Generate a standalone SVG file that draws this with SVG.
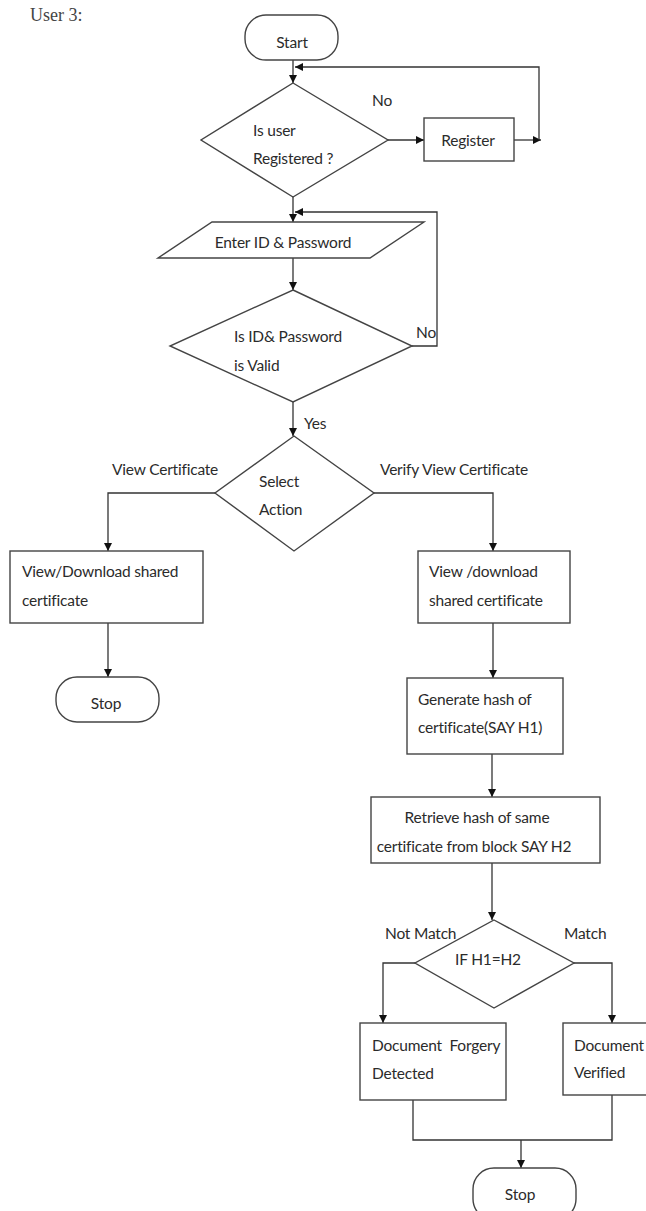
<svg xmlns="http://www.w3.org/2000/svg" width="646" height="1211" viewBox="0 0 646 1211">
<defs>
<style>
.s{fill:#fff;stroke:#444;stroke-width:1.4}
.c{fill:none;stroke:#333;stroke-width:1.3}
.t{font-family:Lato,"Liberation Sans",sans-serif;font-size:15.5px;letter-spacing:-0.2px;fill:#2b2b2b}
.m{text-anchor:middle}
</style>
<marker id="a" markerUnits="userSpaceOnUse" markerWidth="9" markerHeight="9" refX="8" refY="4" orient="auto">
<path d="M0,0 L8,4 L0,8 z" fill="#111"/>
</marker>
</defs>
<rect width="646" height="1211" fill="#fff"/>
<text x="30" y="21" style="font-family:'Liberation Serif',serif;font-size:18px;fill:#444">User 3:</text>

<g id="connectors" class="c">
<line x1="293" y1="60" x2="293" y2="83" marker-end="url(#a)"/>
<line x1="388" y1="140" x2="424" y2="140" marker-end="url(#a)"/>
<line x1="514" y1="140" x2="541" y2="140" marker-end="url(#a)"/>
<polyline points="539,140 539,67 295,67" marker-end="url(#a)"/>
<line x1="293" y1="197" x2="293" y2="222" marker-end="url(#a)"/>
<polyline points="412,346 437,346 437,212 295,212" marker-end="url(#a)"/>
<line x1="293" y1="258" x2="293" y2="290" marker-end="url(#a)"/>
<line x1="293" y1="402" x2="293" y2="436" marker-end="url(#a)"/>
<polyline points="215,493 108,493 108,551" marker-end="url(#a)"/>
<polyline points="374,493 493,493 493,551" marker-end="url(#a)"/>
<line x1="108" y1="623" x2="108" y2="677" marker-end="url(#a)"/>
<line x1="493" y1="623" x2="493" y2="678" marker-end="url(#a)"/>
<line x1="492" y1="754" x2="492" y2="797" marker-end="url(#a)"/>
<line x1="492" y1="863" x2="492" y2="920" marker-end="url(#a)"/>
<polyline points="415,963 383,963 383,1023" marker-end="url(#a)"/>
<polyline points="574,963 612,963 612,1023" marker-end="url(#a)"/>
<polyline points="413,1100 413,1140 612,1140 612,1095"/>
<line x1="521" y1="1140" x2="521" y2="1168" marker-end="url(#a)"/>
</g>

<g id="start"><rect class="s" x="245" y="15" width="93" height="45" rx="21"/><text class="t m" x="292" y="48">Start</text></g>
<g id="isRegistered"><polygon class="s" points="293,83 388,140 293,197 201,140"/><text class="t" x="253" y="136">Is user</text><text class="t" x="253" y="164">Registered ?</text></g>
<g id="noLabel1"><text class="t" x="372" y="106">No</text></g>
<g id="register"><rect class="s" x="424" y="118" width="90" height="43"/><text class="t m" x="468" y="146">Register</text></g>
<g id="enterId"><polygon class="s" points="212,222 424,222 370,258 158,258"/><text class="t m" x="283" y="248">Enter ID &amp; Password</text></g>
<g id="isValid"><polygon class="s" points="293,290 412,346 293,402 170,346"/><text class="t" x="234" y="342">Is ID&amp; Password</text><text class="t" x="234" y="371">is Valid</text></g>
<g id="noLabel2"><text class="t" x="416" y="338">No</text></g>
<g id="yesLabel"><text class="t" x="304" y="429">Yes</text></g>
<g id="selectAction"><polygon class="s" points="294,436 374,493 294,551 215,493"/><text class="t" x="259" y="487">Select</text><text class="t" x="259" y="515">Action</text></g>
<g id="viewCertLabel"><text class="t" x="112" y="475">View Certificate</text></g>
<g id="verifyLabel"><text class="t" x="380" y="475">Verify View Certificate</text></g>
<g id="viewDownloadLeft"><rect class="s" x="10" y="551" width="193" height="72"/><text class="t" x="22" y="577">View/Download shared</text><text class="t" x="22" y="606">certificate</text></g>
<g id="stop1"><rect class="s" x="56" y="677" width="103" height="45" rx="21"/><text class="t m" x="106" y="709">Stop</text></g>
<g id="viewDownloadRight"><rect class="s" x="418" y="551" width="152" height="72"/><text class="t" x="429" y="577">View /download</text><text class="t" x="429" y="606">shared certificate</text></g>
<g id="generateHash"><rect class="s" x="407" y="678" width="156" height="76"/><text class="t" x="418" y="705">Generate hash of</text><text class="t" x="418" y="733">certificate(SAY H1)</text></g>
<g id="retrieveHash"><rect class="s" x="371" y="797" width="229" height="66"/><text class="t m" x="477" y="823">Retrieve hash of same</text><text class="t m" x="474" y="852">certificate from block SAY H2</text></g>
<g id="compare"><polygon class="s" points="494,920 574,963 494,1008 415,963"/><text class="t m" x="488" y="965">IF H1=H2</text></g>
<g id="notMatchLabel"><text class="t" x="385" y="939">Not Match</text></g>
<g id="matchLabel"><text class="t" x="564" y="939">Match</text></g>
<g id="forgery"><rect class="s" x="360" y="1023" width="146" height="77"/><text class="t" x="372" y="1051" xml:space="preserve">Document  Forgery</text><text class="t" x="372" y="1079">Detected</text></g>
<g id="verified"><rect class="s" x="563" y="1023" width="90" height="72"/><text class="t" x="574" y="1051">Document</text><text class="t" x="574" y="1078">Verified</text></g>
<g id="stop2"><rect class="s" x="473" y="1168" width="103" height="52" rx="21"/><text class="t m" x="520" y="1200">Stop</text></g>
</svg>
